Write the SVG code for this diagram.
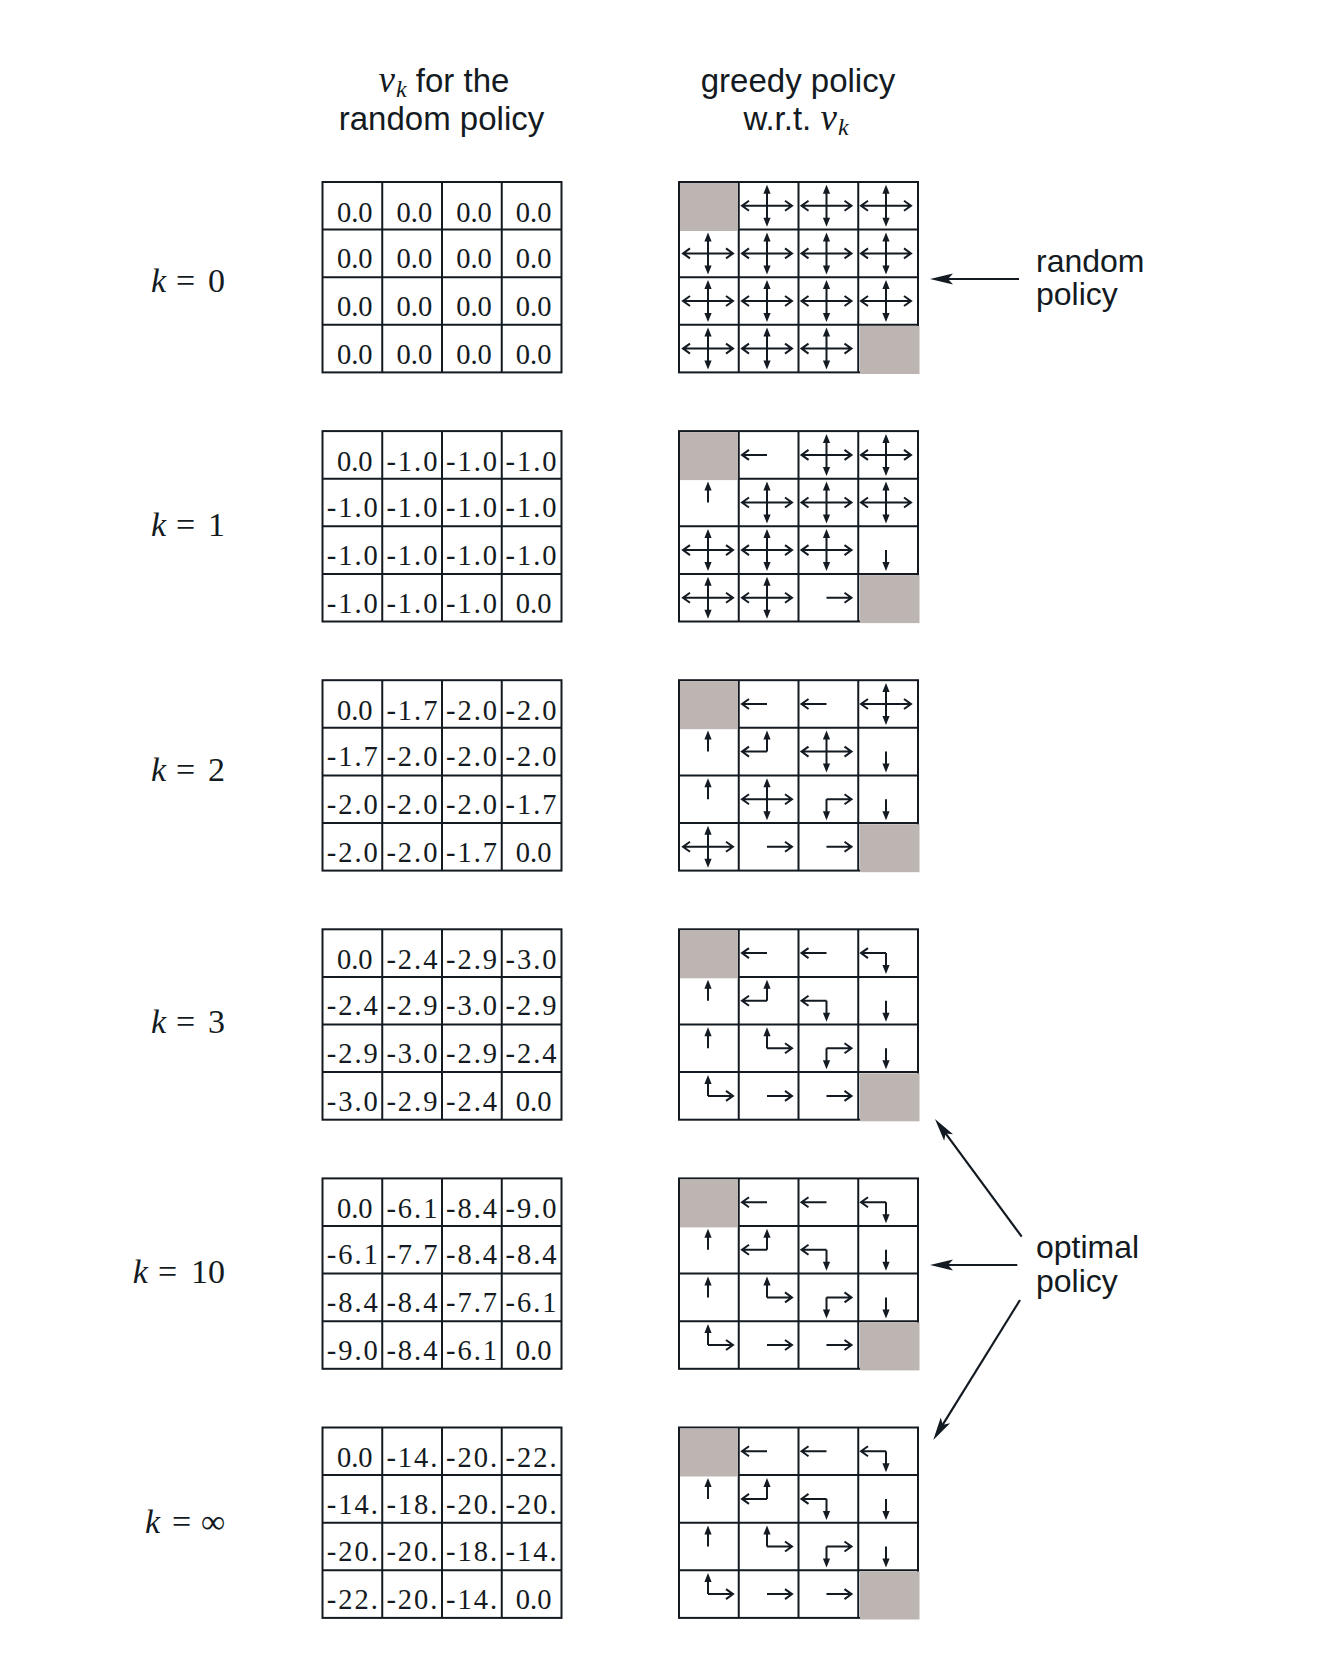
<svg xmlns="http://www.w3.org/2000/svg" xmlns:xlink="http://www.w3.org/1999/xlink" width="1336" height="1668" viewBox="0 0 1336 1668">
<style>
.gl{fill:none;stroke:#131a21;stroke-width:2}
.num{font-family:"Liberation Serif","Times New Roman",serif;font-size:28.5px;fill:#131a21;text-anchor:middle}
.pa{fill:none;stroke:#131a21;stroke-width:2;stroke-linejoin:miter}
.ph{fill:#131a21}
.term{fill:#bdb5b2}
.sans{font-family:"Liberation Sans",Arial,sans-serif;font-size:33px;fill:#131a21}
.side{font-family:"Liberation Sans",Arial,sans-serif;font-size:32px;fill:#131a21}
.mi{font-family:"Liberation Serif","Times New Roman",serif;font-style:italic}
.klab{font-family:"Liberation Serif","Times New Roman",serif;font-size:34px;fill:#131a21}
.conn{fill:none;stroke:#131a21;stroke-width:2.2;marker-end:url(#ah)}
</style>
<defs>
<marker id="ah" markerUnits="userSpaceOnUse" viewBox="-25 -7 26 14" markerWidth="26" markerHeight="14" refX="-8" refY="0" orient="auto">
<path d="M0,0L-23,-5.5L-18,0L-23,5.5Z" fill="#131a21"/>
</marker>
<g id="grid">
<rect class="gl" x="0" y="0" width="239" height="190.4"/>
<path class="gl" d="M59.75,0V190.4M119.5,0V190.4M179.25,0V190.4M0,47.6H239M0,95.2H239M0,142.8H239"/>
</g>
<path id="hL" class="pa" d="M0,0H-24M-18,-5L-25,0L-18,5"/>
<path id="hR" class="pa" d="M0,0H24M18,-5L25,0L18,5"/>
<g id="hU"><path class="pa" d="M0,0V-13"/><path class="ph" d="M0,-21L-3.6,-12L3.6,-12Z"/></g>
<g id="hD"><path class="pa" d="M0,0V13"/><path class="ph" d="M0,21L-3.6,12L3.6,12Z"/></g>
<g id="a4"><use href="#hL"/><use href="#hR"/><use href="#hU"/><use href="#hD"/></g>
<g id="aLU"><use href="#hL"/><use href="#hU"/></g>
<g id="aLD"><use href="#hL"/><use href="#hD"/></g>
<g id="aUR"><use href="#hU"/><use href="#hR"/></g>
<g id="aRD"><use href="#hR"/><use href="#hD"/></g>
</defs>
<rect width="1336" height="1668" fill="#ffffff"/>

<g id="header">
<text class="sans" x="444" y="92" text-anchor="middle"><tspan class="mi" font-size="37">v</tspan><tspan class="mi" font-size="24" dx="1" dy="5">k</tspan><tspan dy="-5"> for the</tspan></text>
<text class="sans" x="441.5" y="130" text-anchor="middle">random policy</text>
<text class="sans" x="798" y="92" text-anchor="middle">greedy policy</text>
<text class="sans" x="796" y="130" text-anchor="middle">w.r.t. <tspan class="mi" font-size="37">v</tspan><tspan class="mi" font-size="24" dx="1" dy="5">k</tspan></text>
</g>

<g id="labels">
<text class="klab" y="292"><tspan class="mi" x="151">k</tspan><tspan x="176">=</tspan><tspan x="208">0</tspan></text>
<text class="klab" y="536"><tspan class="mi" x="151">k</tspan><tspan x="176">=</tspan><tspan x="208">1</tspan></text>
<text class="klab" y="781"><tspan class="mi" x="151">k</tspan><tspan x="176">=</tspan><tspan x="208">2</tspan></text>
<text class="klab" y="1033"><tspan class="mi" x="151">k</tspan><tspan x="176">=</tspan><tspan x="208">3</tspan></text>
<text class="klab" y="1283"><tspan class="mi" x="132.7">k</tspan><tspan x="158">=</tspan><tspan x="191">10</tspan></text>
<text class="klab" y="1533"><tspan class="mi" x="145">k</tspan><tspan x="172">=</tspan><tspan x="201">∞</tspan></text>
</g>

<g id="values-k0" transform="translate(322.5,182)">
<use href="#grid"/>
<text class="num" x="32.3" y="39.5">0.0</text><text class="num" x="91.9" y="39.5">0.0</text><text class="num" x="151.5" y="39.5">0.0</text><text class="num" x="211.1" y="39.5">0.0</text>
<text class="num" x="32.3" y="86">0.0</text><text class="num" x="91.9" y="86">0.0</text><text class="num" x="151.5" y="86">0.0</text><text class="num" x="211.1" y="86">0.0</text>
<text class="num" x="32.3" y="133.5">0.0</text><text class="num" x="91.9" y="133.5">0.0</text><text class="num" x="151.5" y="133.5">0.0</text><text class="num" x="211.1" y="133.5">0.0</text>
<text class="num" x="32.3" y="181.5">0.0</text><text class="num" x="91.9" y="181.5">0.0</text><text class="num" x="151.5" y="181.5">0.0</text><text class="num" x="211.1" y="181.5">0.0</text>
</g>

<g id="values-k1" transform="translate(322.5,431.1)">
<use href="#grid"/>
<text class="num" x="32.3" y="39.5">0.0</text><text class="num" x="89.4" y="39.5" textLength="51" lengthAdjust="spacing">-1.0</text><text class="num" x="149" y="39.5" textLength="51" lengthAdjust="spacing">-1.0</text><text class="num" x="208.6" y="39.5" textLength="51" lengthAdjust="spacing">-1.0</text>
<text class="num" x="29.8" y="86" textLength="51" lengthAdjust="spacing">-1.0</text><text class="num" x="89.4" y="86" textLength="51" lengthAdjust="spacing">-1.0</text><text class="num" x="149" y="86" textLength="51" lengthAdjust="spacing">-1.0</text><text class="num" x="208.6" y="86" textLength="51" lengthAdjust="spacing">-1.0</text>
<text class="num" x="29.8" y="133.5" textLength="51" lengthAdjust="spacing">-1.0</text><text class="num" x="89.4" y="133.5" textLength="51" lengthAdjust="spacing">-1.0</text><text class="num" x="149" y="133.5" textLength="51" lengthAdjust="spacing">-1.0</text><text class="num" x="208.6" y="133.5" textLength="51" lengthAdjust="spacing">-1.0</text>
<text class="num" x="29.8" y="181.5" textLength="51" lengthAdjust="spacing">-1.0</text><text class="num" x="89.4" y="181.5" textLength="51" lengthAdjust="spacing">-1.0</text><text class="num" x="149" y="181.5" textLength="51" lengthAdjust="spacing">-1.0</text><text class="num" x="211.1" y="181.5">0.0</text>
</g>

<g id="values-k2" transform="translate(322.5,680.2)">
<use href="#grid"/>
<text class="num" x="32.3" y="39.5">0.0</text><text class="num" x="89.4" y="39.5" textLength="51" lengthAdjust="spacing">-1.7</text><text class="num" x="149" y="39.5" textLength="51" lengthAdjust="spacing">-2.0</text><text class="num" x="208.6" y="39.5" textLength="51" lengthAdjust="spacing">-2.0</text>
<text class="num" x="29.8" y="86" textLength="51" lengthAdjust="spacing">-1.7</text><text class="num" x="89.4" y="86" textLength="51" lengthAdjust="spacing">-2.0</text><text class="num" x="149" y="86" textLength="51" lengthAdjust="spacing">-2.0</text><text class="num" x="208.6" y="86" textLength="51" lengthAdjust="spacing">-2.0</text>
<text class="num" x="29.8" y="133.5" textLength="51" lengthAdjust="spacing">-2.0</text><text class="num" x="89.4" y="133.5" textLength="51" lengthAdjust="spacing">-2.0</text><text class="num" x="149" y="133.5" textLength="51" lengthAdjust="spacing">-2.0</text><text class="num" x="208.6" y="133.5" textLength="51" lengthAdjust="spacing">-1.7</text>
<text class="num" x="29.8" y="181.5" textLength="51" lengthAdjust="spacing">-2.0</text><text class="num" x="89.4" y="181.5" textLength="51" lengthAdjust="spacing">-2.0</text><text class="num" x="149" y="181.5" textLength="51" lengthAdjust="spacing">-1.7</text><text class="num" x="211.1" y="181.5">0.0</text>
</g>

<g id="values-k3" transform="translate(322.5,929.3)">
<use href="#grid"/>
<text class="num" x="32.3" y="39.5">0.0</text><text class="num" x="89.4" y="39.5" textLength="51" lengthAdjust="spacing">-2.4</text><text class="num" x="149" y="39.5" textLength="51" lengthAdjust="spacing">-2.9</text><text class="num" x="208.6" y="39.5" textLength="51" lengthAdjust="spacing">-3.0</text>
<text class="num" x="29.8" y="86" textLength="51" lengthAdjust="spacing">-2.4</text><text class="num" x="89.4" y="86" textLength="51" lengthAdjust="spacing">-2.9</text><text class="num" x="149" y="86" textLength="51" lengthAdjust="spacing">-3.0</text><text class="num" x="208.6" y="86" textLength="51" lengthAdjust="spacing">-2.9</text>
<text class="num" x="29.8" y="133.5" textLength="51" lengthAdjust="spacing">-2.9</text><text class="num" x="89.4" y="133.5" textLength="51" lengthAdjust="spacing">-3.0</text><text class="num" x="149" y="133.5" textLength="51" lengthAdjust="spacing">-2.9</text><text class="num" x="208.6" y="133.5" textLength="51" lengthAdjust="spacing">-2.4</text>
<text class="num" x="29.8" y="181.5" textLength="51" lengthAdjust="spacing">-3.0</text><text class="num" x="89.4" y="181.5" textLength="51" lengthAdjust="spacing">-2.9</text><text class="num" x="149" y="181.5" textLength="51" lengthAdjust="spacing">-2.4</text><text class="num" x="211.1" y="181.5">0.0</text>
</g>

<g id="values-k10" transform="translate(322.5,1178.4)">
<use href="#grid"/>
<text class="num" x="32.3" y="39.5">0.0</text><text class="num" x="89.4" y="39.5" textLength="51" lengthAdjust="spacing">-6.1</text><text class="num" x="149" y="39.5" textLength="51" lengthAdjust="spacing">-8.4</text><text class="num" x="208.6" y="39.5" textLength="51" lengthAdjust="spacing">-9.0</text>
<text class="num" x="29.8" y="86" textLength="51" lengthAdjust="spacing">-6.1</text><text class="num" x="89.4" y="86" textLength="51" lengthAdjust="spacing">-7.7</text><text class="num" x="149" y="86" textLength="51" lengthAdjust="spacing">-8.4</text><text class="num" x="208.6" y="86" textLength="51" lengthAdjust="spacing">-8.4</text>
<text class="num" x="29.8" y="133.5" textLength="51" lengthAdjust="spacing">-8.4</text><text class="num" x="89.4" y="133.5" textLength="51" lengthAdjust="spacing">-8.4</text><text class="num" x="149" y="133.5" textLength="51" lengthAdjust="spacing">-7.7</text><text class="num" x="208.6" y="133.5" textLength="51" lengthAdjust="spacing">-6.1</text>
<text class="num" x="29.8" y="181.5" textLength="51" lengthAdjust="spacing">-9.0</text><text class="num" x="89.4" y="181.5" textLength="51" lengthAdjust="spacing">-8.4</text><text class="num" x="149" y="181.5" textLength="51" lengthAdjust="spacing">-6.1</text><text class="num" x="211.1" y="181.5">0.0</text>
</g>

<g id="values-kinf" transform="translate(322.5,1427.5)">
<use href="#grid"/>
<text class="num" x="32.3" y="39.5">0.0</text><text class="num" x="89.4" y="39.5" textLength="51" lengthAdjust="spacing">-14.</text><text class="num" x="149" y="39.5" textLength="51" lengthAdjust="spacing">-20.</text><text class="num" x="208.6" y="39.5" textLength="51" lengthAdjust="spacing">-22.</text>
<text class="num" x="29.8" y="86" textLength="51" lengthAdjust="spacing">-14.</text><text class="num" x="89.4" y="86" textLength="51" lengthAdjust="spacing">-18.</text><text class="num" x="149" y="86" textLength="51" lengthAdjust="spacing">-20.</text><text class="num" x="208.6" y="86" textLength="51" lengthAdjust="spacing">-20.</text>
<text class="num" x="29.8" y="133.5" textLength="51" lengthAdjust="spacing">-20.</text><text class="num" x="89.4" y="133.5" textLength="51" lengthAdjust="spacing">-20.</text><text class="num" x="149" y="133.5" textLength="51" lengthAdjust="spacing">-18.</text><text class="num" x="208.6" y="133.5" textLength="51" lengthAdjust="spacing">-14.</text>
<text class="num" x="29.8" y="181.5" textLength="51" lengthAdjust="spacing">-22.</text><text class="num" x="89.4" y="181.5" textLength="51" lengthAdjust="spacing">-20.</text><text class="num" x="149" y="181.5" textLength="51" lengthAdjust="spacing">-14.</text><text class="num" x="211.1" y="181.5">0.0</text>
</g>

<g id="policy-k0" transform="translate(679,182)">
<use href="#grid"/>
<rect class="term" x="1" y="1" width="58" height="48"/>
<rect class="term" x="181" y="144" width="59.5" height="48"/>
<use href="#a4" x="88" y="23.8"/><use href="#a4" x="147.5" y="23.8"/><use href="#a4" x="207" y="23.8"/>
<use href="#a4" x="29" y="71.4"/><use href="#a4" x="88" y="71.4"/><use href="#a4" x="147.5" y="71.4"/><use href="#a4" x="207" y="71.4"/>
<use href="#a4" x="29" y="119"/><use href="#a4" x="88" y="119"/><use href="#a4" x="147.5" y="119"/><use href="#a4" x="207" y="119"/>
<use href="#a4" x="29" y="166.6"/><use href="#a4" x="88" y="166.6"/><use href="#a4" x="147.5" y="166.6"/>
</g>

<g id="policy-k1" transform="translate(679,431.1)">
<use href="#grid"/>
<rect class="term" x="1" y="1" width="58" height="48"/>
<rect class="term" x="181" y="144" width="59.5" height="48"/>
<use href="#hL" x="88" y="23.8"/><use href="#a4" x="147.5" y="23.8"/><use href="#a4" x="207" y="23.8"/>
<use href="#hU" x="29" y="71.4"/><use href="#a4" x="88" y="71.4"/><use href="#a4" x="147.5" y="71.4"/><use href="#a4" x="207" y="71.4"/>
<use href="#a4" x="29" y="119"/><use href="#a4" x="88" y="119"/><use href="#a4" x="147.5" y="119"/><use href="#hD" x="207" y="119"/>
<use href="#a4" x="29" y="166.6"/><use href="#a4" x="88" y="166.6"/><use href="#hR" x="147.5" y="166.6"/>
</g>

<g id="policy-k2" transform="translate(679,680.2)">
<use href="#grid"/>
<rect class="term" x="1" y="1" width="58" height="48"/>
<rect class="term" x="181" y="144" width="59.5" height="48"/>
<use href="#hL" x="88" y="23.8"/><use href="#hL" x="147.5" y="23.8"/><use href="#a4" x="207" y="23.8"/>
<use href="#hU" x="29" y="71.4"/><use href="#aLU" x="88" y="71.4"/><use href="#a4" x="147.5" y="71.4"/><use href="#hD" x="207" y="71.4"/>
<use href="#hU" x="29" y="119"/><use href="#a4" x="88" y="119"/><use href="#aRD" x="147.5" y="119"/><use href="#hD" x="207" y="119"/>
<use href="#a4" x="29" y="166.6"/><use href="#hR" x="88" y="166.6"/><use href="#hR" x="147.5" y="166.6"/>
</g>

<g id="policy-k3" transform="translate(679,929.3)">
<use href="#grid"/>
<rect class="term" x="1" y="1" width="58" height="48"/>
<rect class="term" x="181" y="144" width="59.5" height="48"/>
<use href="#hL" x="88" y="23.8"/><use href="#hL" x="147.5" y="23.8"/><use href="#aLD" x="207" y="23.8"/>
<use href="#hU" x="29" y="71.4"/><use href="#aLU" x="88" y="71.4"/><use href="#aLD" x="147.5" y="71.4"/><use href="#hD" x="207" y="71.4"/>
<use href="#hU" x="29" y="119"/><use href="#aUR" x="88" y="119"/><use href="#aRD" x="147.5" y="119"/><use href="#hD" x="207" y="119"/>
<use href="#aUR" x="29" y="166.6"/><use href="#hR" x="88" y="166.6"/><use href="#hR" x="147.5" y="166.6"/>
</g>

<g id="policy-k10" transform="translate(679,1178.4)">
<use href="#grid"/>
<rect class="term" x="1" y="1" width="58" height="48"/>
<rect class="term" x="181" y="144" width="59.5" height="48"/>
<use href="#hL" x="88" y="23.8"/><use href="#hL" x="147.5" y="23.8"/><use href="#aLD" x="207" y="23.8"/>
<use href="#hU" x="29" y="71.4"/><use href="#aLU" x="88" y="71.4"/><use href="#aLD" x="147.5" y="71.4"/><use href="#hD" x="207" y="71.4"/>
<use href="#hU" x="29" y="119"/><use href="#aUR" x="88" y="119"/><use href="#aRD" x="147.5" y="119"/><use href="#hD" x="207" y="119"/>
<use href="#aUR" x="29" y="166.6"/><use href="#hR" x="88" y="166.6"/><use href="#hR" x="147.5" y="166.6"/>
</g>

<g id="policy-kinf" transform="translate(679,1427.5)">
<use href="#grid"/>
<rect class="term" x="1" y="1" width="58" height="48"/>
<rect class="term" x="181" y="144" width="59.5" height="48"/>
<use href="#hL" x="88" y="23.8"/><use href="#hL" x="147.5" y="23.8"/><use href="#aLD" x="207" y="23.8"/>
<use href="#hU" x="29" y="71.4"/><use href="#aLU" x="88" y="71.4"/><use href="#aLD" x="147.5" y="71.4"/><use href="#hD" x="207" y="71.4"/>
<use href="#hU" x="29" y="119"/><use href="#aUR" x="88" y="119"/><use href="#aRD" x="147.5" y="119"/><use href="#hD" x="207" y="119"/>
<use href="#aUR" x="29" y="166.6"/><use href="#hR" x="88" y="166.6"/><use href="#hR" x="147.5" y="166.6"/>
</g>

<g id="note-random">
<text class="side" x="1036" y="272">random</text>
<text class="side" x="1036" y="305">policy</text>
</g>
<g id="note-optimal">
<text class="side" x="1036" y="1258">optimal</text>
<text class="side" x="1036" y="1292">policy</text>
</g>

<g id="connectors">
<path class="conn" d="M1019,279L938,279"/>
<path class="conn" d="M1021.7,1236.7L939.7,1125.4"/>
<path class="conn" d="M1017.3,1265L938,1265"/>
<path class="conn" d="M1020,1300L937.5,1433.2"/>
</g>
</svg>
